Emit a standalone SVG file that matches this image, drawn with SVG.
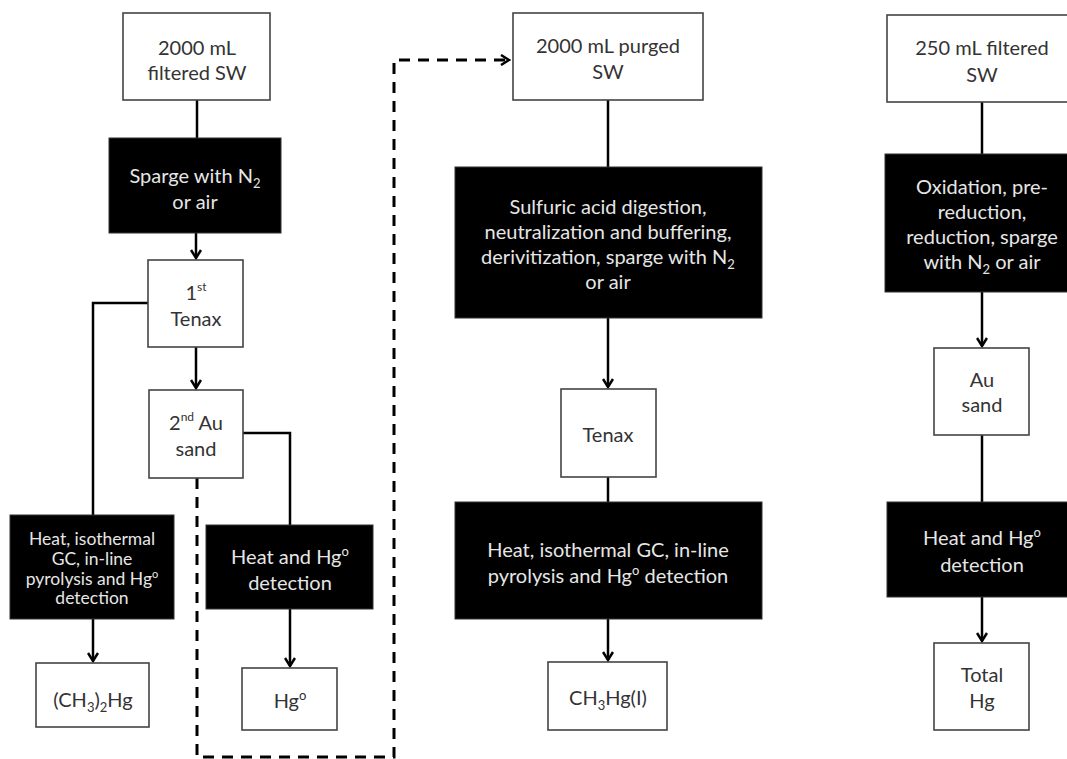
<svg xmlns="http://www.w3.org/2000/svg" width="1067" height="759" viewBox="0 0 1067 759">
<defs>
<marker id="arr" markerWidth="12" markerHeight="12" refX="10" refY="6" orient="auto" markerUnits="userSpaceOnUse">
<path d="M2,1 L10,6 L2,11" fill="none" stroke="#000" stroke-width="2.5"/>
</marker>
<style>
.wb{fill:#fff;stroke:#444;stroke-width:1.6}
.bb{fill:#000;stroke:#333;stroke-width:1}
.wt{font-family:Lato,"Liberation Sans",sans-serif;font-size:20px;fill:#333;text-anchor:middle}
.bt{font-family:Lato,"Liberation Sans",sans-serif;font-size:20px;fill:#e6e6e6;text-anchor:middle}
.sm{font-size:17.5px}
.c{fill:none;stroke:#000;stroke-width:2.5}
.d{fill:none;stroke:#000;stroke-width:3;stroke-dasharray:11,8}
</style>
</defs>
<rect width="1067" height="759" fill="#fff"/>
<g id="connectors">
<path class="c" d="M197,100 V138"/>
<path class="c" d="M196,233 V258" marker-end="url(#arr)"/>
<path class="c" d="M148,303 H93 V515"/>
<path class="c" d="M196,347 V388" marker-end="url(#arr)"/>
<path class="c" d="M243,433 H290 V525"/>
<path class="c" d="M93,619 V661" marker-end="url(#arr)"/>
<path class="c" d="M290,609 V666" marker-end="url(#arr)"/>
<path class="d" d="M197,478 V757 H394 V60 H509" marker-end="url(#arr)"/>
<path class="c" d="M608,100 V167"/>
<path class="c" d="M608,318 V387" marker-end="url(#arr)"/>
<path class="c" d="M608,477 V502"/>
<path class="c" d="M608,619 V660" marker-end="url(#arr)"/>
<path class="c" d="M982,102 V154"/>
<path class="c" d="M982,292 V346" marker-end="url(#arr)"/>
<path class="c" d="M982,435 V502"/>
<path class="c" d="M982,597 V641" marker-end="url(#arr)"/>
</g>
<g id="n1"><rect class="wb" x="123" y="13" width="147" height="87"/>
<text class="wt" x="197" y="55">2000 mL</text><text class="wt" x="197" y="80">filtered SW</text></g>
<g id="n2"><rect class="bb" x="109" y="138" width="172" height="95"/>
<text class="bt" x="195" y="183">Sparge with N<tspan font-size="13" dy="5">2</tspan></text><text class="bt" x="195" y="209">or air</text></g>
<g id="n3"><rect class="wb" x="148" y="260" width="95" height="87"/>
<text class="wt" x="196" y="300">1<tspan font-size="12" dy="-9">st</tspan></text><text class="wt" x="196" y="326">Tenax</text></g>
<g id="n4"><rect class="wb" x="149" y="390" width="94" height="88"/>
<text class="wt" x="196" y="430">2<tspan font-size="12" dy="-9">nd</tspan><tspan dy="9"> Au</tspan></text><text class="wt" x="196" y="456">sand</text></g>
<g id="n5"><rect class="bb" x="10" y="515" width="164" height="104"/>
<text class="bt sm" x="92" y="545">Heat, isothermal</text><text class="bt sm" x="92" y="565">GC, in-line</text><text class="bt sm" x="92" y="585">pyrolysis and Hg<tspan font-size="11" dy="-7">o</tspan></text><text class="bt sm" x="92" y="604">detection</text></g>
<g id="n6"><rect class="bb" x="206" y="525" width="167" height="84"/>
<text class="bt" x="290" y="564">Heat and Hg<tspan font-size="13" dy="-8">o</tspan></text><text class="bt" x="290" y="590">detection</text></g>
<g id="n7"><rect class="wb" x="36" y="663" width="113" height="64"/>
<text class="wt" x="93" y="707">(CH<tspan font-size="13" dy="5">3</tspan><tspan dy="-5">)</tspan><tspan font-size="13" dy="5">2</tspan><tspan dy="-5">Hg</tspan></text></g>
<g id="n8"><rect class="wb" x="242" y="668" width="95" height="62"/>
<text class="wt" x="290" y="708">Hg<tspan font-size="13" dy="-8">o</tspan></text></g>
<g id="n9"><rect class="wb" x="513" y="13" width="190" height="87"/>
<text class="wt" x="608" y="53">2000 mL purged</text><text class="wt" x="608" y="79">SW</text></g>
<g id="n10"><rect class="bb" x="455" y="167" width="307" height="151"/>
<text class="bt" x="608" y="214">Sulfuric acid digestion,</text><text class="bt" x="608" y="239">neutralization and buffering,</text><text class="bt" x="608" y="264">derivitization, sparge with N<tspan font-size="13" dy="5">2</tspan></text><text class="bt" x="608" y="289">or air</text></g>
<g id="n11"><rect class="wb" x="561" y="389" width="95" height="88"/>
<text class="wt" x="608" y="442">Tenax</text></g>
<g id="n12"><rect class="bb" x="455" y="502" width="307" height="117"/>
<text class="bt" x="608" y="557">Heat, isothermal GC, in-line</text><text class="bt" x="608" y="583">pyrolysis and Hg<tspan font-size="13" dy="-8">o</tspan><tspan dy="8"> detection</tspan></text></g>
<g id="n13"><rect class="wb" x="548" y="662" width="119" height="68"/>
<text class="wt" x="608" y="705">CH<tspan font-size="13" dy="5">3</tspan><tspan dy="-5">Hg(I)</tspan></text></g>
<g id="n14"><rect class="wb" x="887" y="15" width="190" height="87"/>
<text class="wt" x="982" y="55">250 mL filtered</text><text class="wt" x="982" y="82">SW</text></g>
<g id="n15"><rect class="bb" x="885" y="154" width="190" height="138"/>
<text class="bt" x="982" y="194">Oxidation, pre-</text><text class="bt" x="982" y="219">reduction,</text><text class="bt" x="982" y="244">reduction, sparge</text><text class="bt" x="982" y="269">with N<tspan font-size="13" dy="5">2</tspan><tspan dy="-5"> or air</tspan></text></g>
<g id="n16"><rect class="wb" x="934" y="348" width="95" height="87"/>
<text class="wt" x="982" y="387">Au</text><text class="wt" x="982" y="412">sand</text></g>
<g id="n17"><rect class="bb" x="887" y="502" width="190" height="95"/>
<text class="bt" x="982" y="545">Heat and Hg<tspan font-size="13" dy="-8">o</tspan></text><text class="bt" x="982" y="572">detection</text></g>
<g id="n18"><rect class="wb" x="934" y="643" width="95" height="87"/>
<text class="wt" x="982" y="682">Total</text><text class="wt" x="982" y="708">Hg</text></g>
</svg>
